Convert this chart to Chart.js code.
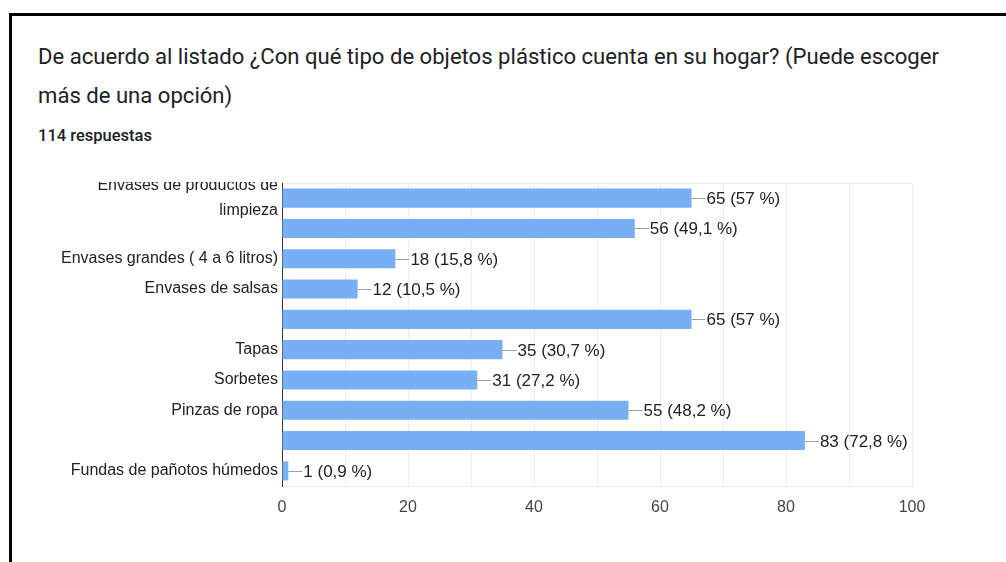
<!DOCTYPE html>
<html>
<head>
<meta charset="utf-8">
<script src="https://cdn.jsdelivr.net/npm/chart.js@4.4.1/dist/chart.umd.min.js"></script>
<style>
  body { margin: 0; background: #fff; width: 1006px; height: 562px; overflow: hidden; position: relative; }
  .marco { position: absolute; left: 9px; top: 13px; width: 1100px; height: 600px; border-top: 3px solid #000; border-left: 3px solid #000; }
  .titulo { position: absolute; left: 38px; top: 37px; width: 915px; font-family: Roboto, sans-serif; font-size: 22.1px; line-height: 39px; color: #202124; }
  .respuestas { position: absolute; left: 38px; top: 126px; font-family: Roboto, sans-serif; font-size: 16.5px; font-weight: 500; line-height: 20px; color: #202124; }
  .grafico { position: absolute; left: 0; top: 182px; width: 1006px; height: 350px; }
</style>
</head>
<body>
<div class="marco"></div>
<div class="titulo">De acuerdo al listado ¿Con qué tipo de objetos plástico cuenta en su hogar? (Puede escoger más de una opción)</div>
<div class="respuestas">114 respuestas</div>
<div class="grafico"><canvas id="barras"></canvas></div>

<script>
// Opciones (algunas etiquetas no se ven en la imagen original)
const categorias = [
    ['Envases de productos de', 'limpieza'],
    '',
    'Envases grandes ( 4 a 6 litros)',
    'Envases de salsas',
    '',
    'Tapas',
    'Sorbetes',
    'Pinzas de ropa',
    '',
    'Fundas de pañotos húmedos'
];
const respuestas = [65, 56, 18, 12, 65, 35, 31, 55, 83, 1];
const porcentajes = ['57', '49,1', '15,8', '10,5', '57', '30,7', '27,2', '48,2', '72,8', '0,9'];
const ticksX = [0, 20, 40, 60, 80, 100];

const fuente = "'Liberation Sans', Arial, sans-serif";

// Marco gris claro del área del gráfico
const marcoArea = {
    id: 'marcoArea',
    beforeDraw(chart) {
        const { ctx, chartArea: a } = chart;
        ctx.save();
        ctx.strokeStyle = '#ececec';
        ctx.lineWidth = 1;
        ctx.strokeRect(a.left + 0.5, a.top + 0.5, a.right - a.left, a.bottom - a.top);
        ctx.restore();
    }
};

// Etiqueta "65 (57 %)" con su rayita al final de cada barra
const etiquetas = {
    id: 'etiquetas',
    afterDatasetsDraw(chart) {
        const ctx = chart.ctx;
        const meta = chart.getDatasetMeta(0);
        ctx.save();
        ctx.font = '17px ' + fuente;
        ctx.textBaseline = 'middle';
        meta.data.forEach((bar, i) => {
            const x = bar.x, y = Math.round(bar.y) + 0.5;
            ctx.strokeStyle = '#9e9e9e';
            ctx.lineWidth = 1;
            ctx.beginPath();
            ctx.moveTo(x, y);
            ctx.lineTo(x + 14, y);
            ctx.stroke();
            ctx.fillStyle = '#222';
            ctx.fillText(`${respuestas[i]} (${porcentajes[i]} %)`, x + 15, y + 1);
        });
        ctx.restore();
    }
};

new Chart(document.getElementById('barras'), {
    type: 'bar',
    data: {
        labels: categorias,
        datasets: [{
            data: respuestas,
            backgroundColor: '#78aef4',
            barPercentage: 0.63,
            categoryPercentage: 1
        }]
    },
    options: {
        indexAxis: 'y',
        responsive: true,
        maintainAspectRatio: false,
        animation: false,
        layout: { padding: { top: 1, right: 94, left: 0, bottom: 0 } },
        plugins: {
            legend: { display: false },
            tooltip: { enabled: false }
        },
        scales: {
            x: {
                min: 0,
                max: 100,
                afterFit(scale) { scale.height = 46; },
                afterBuildTicks(scale) {
                    scale.ticks = [];
                    for (let v = 0; v <= 100; v += 10) scale.ticks.push({ value: v });
                },
                ticks: {
                    autoSkip: false,
                    maxRotation: 0,
                    padding: 12,
                    color: '#444',
                    font: { family: fuente, size: 16 },
                    callback: (v) => ticksX.includes(v) ? String(v) : ''
                },
                grid: { color: '#ececec', drawTicks: false },
                border: { display: false }
            },
            y: {
                afterFit(scale) {
                    scale.width = 282;
                    scale.paddingTop = 0;
                    scale.paddingBottom = 0;
                },
                ticks: {
                    autoSkip: false,
                    padding: 4,
                    color: '#222',
                    font: { family: fuente, size: 16, lineHeight: 1.6 }
                },
                grid: { display: false, drawTicks: false },
                border: { display: true, color: '#333', width: 1 }
            }
        }
    },
    plugins: [marcoArea, etiquetas]
});
</script>
</body>
</html>
